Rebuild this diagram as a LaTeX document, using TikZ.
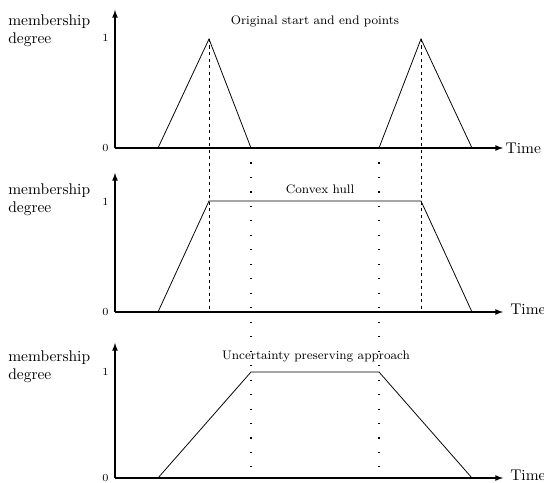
\documentclass[tikz,border=0pt]{standalone}
\usepackage{amsmath}
\usetikzlibrary{arrows, positioning}
\tikzset{axis/.style={line width=0.7pt,-latex},
  fuzzy/.style={line width=0.5pt},
  guide/.style={line width=0.5pt, dash pattern=on 2.1pt off 2.1pt},
  border/.style={line width=0.7pt, dash pattern=on 0.7pt off 8.65pt},
  ylab/.style={align=left, anchor=north west, inner sep=0pt},
  tick/.style={font=\scriptsize, anchor=east, inner sep=4pt},
  title/.style={font=\footnotesize}}

\begin{document}
\begin{tikzpicture}[x=0.0227cm, y=0.0227cm]
      \useasboundingbox (0,0) rectangle (544,483);

      % original start and end points
      \coordinate (o1) at (115,335);
      \draw[axis] (o1) -- (115,473) coordinate (y1);
      \draw[axis] (o1) -- (503,335) coordinate (x1);
      \node[right, inner sep=1.5pt] (t1) at (x1) {Time};
      \node[ylab] (m1) at (8,469) {membership\\degree};
      \node[tick] (one1) at (115,445) {1};
      \node[tick] (zero1) at (o1) {0};
      \node[title] (h1) at (315,462) {Original start and end points};
      \coordinate (a1) at (158,335);
      \coordinate (p1) at (209,444);
      \coordinate (b1) at (251,335);
      \coordinate (a2) at (379,335);
      \coordinate (p2) at (421,444);
      \coordinate (b2) at (472,335);
      \draw[fuzzy] (a1) -- (p1) -- (b1);
      \draw[fuzzy] (a2) -- (p2) -- (b2);

      % convex hull
      \coordinate (o2) at (115,171);
      \draw[axis] (o2) -- (115,310) coordinate (y2);
      \draw[axis] (o2) -- (503,171) coordinate (x2);
      \node[right, inner sep=4.5pt, yshift=2pt] (t2) at (x2) {Time};
      \node[ylab] (m2) at (8,300) {membership\\degree};
      \node[tick] (one2) at (115,281) {1};
      \node[tick] (zero2) at (o2) {0};
      \node[title] (h2) at (320,294) {Convex hull};
      \draw[fuzzy] (a1 |- o2) -- (p1 |- 0,282) -- (p2 |- 0,282) -- (b2 |- o2);

      % uncertainty preserving
      \coordinate (o3) at (115,5);
      \draw[axis] (o3) -- (115,140) coordinate (y3);
      \draw[axis] (o3) -- (503,5) coordinate (x3);
      \node[right, inner sep=4.5pt, yshift=2pt] (t3) at (x3) {Time};
      \node[ylab] (m3) at (8,133) {membership\\degree};
      \node[tick] (one3) at (115,111) {1};
      \node[tick] (zero3) at (o3) {0};
      \node[title] (h3) at (316,127) {Uncertainty preserving approach};
      \draw[fuzzy] (a1 |- o3) -- (b1 |- 0,111) -- (a2 |- 0,111) -- (b2 |- o3);

      % guide lines
      \draw[guide] (p1) -- (p1 |- o2);
      \draw[guide] (p2) -- (p2 |- o2);
      \coordinate (e1) at (251,14);
      \coordinate (e2) at (379,14);
      \draw[border] (b1) -- (e1);
      \draw[border] (a2) -- (e2);
\end{tikzpicture}
\end{document}
